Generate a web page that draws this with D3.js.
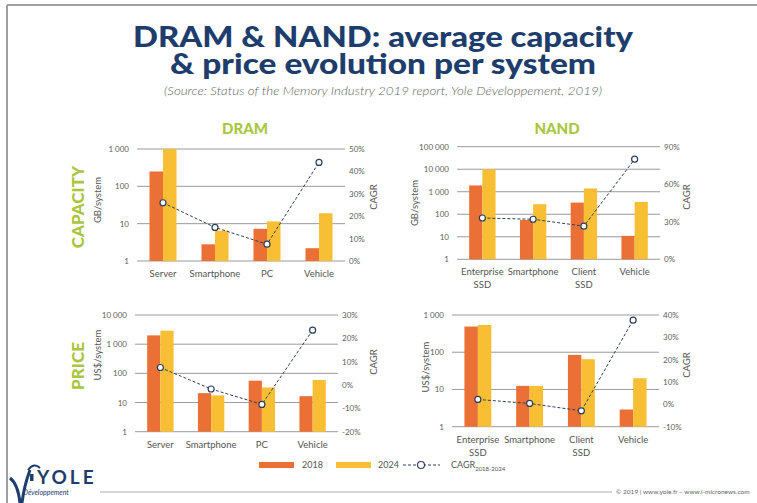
<!DOCTYPE html>
<html>
<head>
<meta charset="utf-8">
<script src="https://cdn.jsdelivr.net/npm/d3@7"></script>
<style>
  body { margin: 0; background: #fff; }
  svg { display: block; font-family: Lato, "Open Sans", sans-serif; }
</style>
</head>
<body>
<div id="chart"></div>
<script>
// categories
var dramCats = ["Server", "Smartphone", "PC", "Vehicle"];
var nandCats = ["Enterprise|SSD", "Smartphone", "Client|SSD", "Vehicle"];

// capacity, GB/system
var dramCap2018 = [250, 2.8, 7.3, 2.2];
var dramCap2024 = [1000, 6.5, 11.5, 19];
var dramCapCagr = [26, 15, 7.5, 44];
var nandCap2018 = [1900, 56, 330, 11];
var nandCap2024 = [10000, 280, 1400, 350];
var nandCapCagr = [33, 32, 26.5, 80];

// price, US$/system
var dramPrice2018 = [2000, 21, 56, 16.5];
var dramPrice2024 = [2900, 17.5, 33, 59];
var dramPriceCagr = [7.5, -1.7, -8.3, 23.5];
var nandPrice2018 = [490, 12.5, 85, 2.9];
var nandPrice2024 = [540, 12.5, 65, 20];
var nandPriceCagr = [2.2, 0.4, -2.9, 37.7];

// tick labels
var dramCapTicks = [1, 10, 100, 1000];
var nandCapTicks = [1, 10, 100, 1000, 10000, 100000];
var dramPriceTicks = [1, 10, 100, 1000, 10000];
var nandPriceTicks = [1, 10, 100, 1000];
var dramCapCagrTicks = [0, 10, 20, 30, 40, 50];
var nandCapCagrTicks = [0, 30, 60, 90];
var dramPriceCagrTicks = [-20, -10, 0, 10, 20, 30];
var nandPriceCagrTicks = [-10, 0, 10, 20, 30, 40];

var W = 757, H = 503;
var col2018 = "#ea7035", col2024 = "#f8bf35", green = "#a9c63e", navy = "#1d3d6d";
var gridCol = "#9a9a9a", tickCol = "#606060", lineCol = "#2c3e5e";

var svg = d3.select("#chart").append("svg")
  .attr("width", W).attr("height", H);

// frame
svg.append("line").attr("x1", 7).attr("x2", W).attr("y1", 5).attr("y2", 5)
  .attr("stroke", "#a0a0a0").attr("stroke-width", 2);
svg.append("line").attr("x1", 7).attr("x2", 7).attr("y1", 5).attr("y2", H)
  .attr("stroke", "#a0a0a0").attr("stroke-width", 2);

// title (one text, two lines)
var title = svg.append("text").attr("text-anchor", "middle")
  .attr("font-size", 28).attr("font-weight", 900).attr("fill", navy);
title.append("tspan").attr("x", 383).attr("y", 47)
  .attr("textLength", 500).attr("lengthAdjust", "spacingAndGlyphs")
  .text("DRAM & NAND: average capacity");
title.append("tspan").attr("x", 383).attr("y", 74)
  .attr("textLength", 426).attr("lengthAdjust", "spacingAndGlyphs")
  .text("& price evolution per system");
svg.append("text").attr("x", 383).attr("y", 95).attr("text-anchor", "middle")
  .attr("font-size", 11.5).attr("font-style", "italic").attr("font-weight", 300).attr("fill", "#666")
  .attr("textLength", 438).attr("lengthAdjust", "spacingAndGlyphs")
  .text("(Source: Status of the Memory Industry 2019 report, Yole Développement, 2019)");

// column / row headers
svg.append("text").attr("x", 245).attr("y", 134).attr("text-anchor", "middle")
  .attr("font-size", 15).attr("font-weight", 900).attr("fill", green).text("DRAM");
svg.append("text").attr("x", 557).attr("y", 134).attr("text-anchor", "middle")
  .attr("font-size", 15).attr("font-weight", 900).attr("fill", green).text("NAND");
svg.append("text").attr("transform", "translate(84,207) rotate(-90)").attr("text-anchor", "middle")
  .attr("font-size", 17).attr("font-weight", 900).attr("fill", green).text("CAPACITY");
svg.append("text").attr("transform", "translate(84,366) rotate(-90)").attr("text-anchor", "middle")
  .attr("font-size", 17).attr("font-weight", 900).attr("fill", green).text("PRICE");

var fmt = function(v) { return d3.format(",")(v).replace(/,/g, " "); };

var panels = [
  { cats: dramCats, a: dramCap2018, b: dramCap2024, c: dramCapCagr, ticks: dramCapTicks, cticks: dramCapCagrTicks,
    x0: 137, x1: 345, y0: 261, y1: 149, unit: "GB/system", ux: 101, uy: 200, cx: 377, cy: 197 },
  { cats: nandCats, a: nandCap2018, b: nandCap2024, c: nandCapCagr, ticks: nandCapTicks, cticks: nandCapCagrTicks,
    x0: 457, x1: 660, y0: 259.3, y1: 146.7, unit: "GB/system", ux: 418, uy: 203, cx: 690, cy: 197 },
  { cats: dramCats, a: dramPrice2018, b: dramPrice2024, c: dramPriceCagr, ticks: dramPriceTicks, cticks: dramPriceCagrTicks,
    x0: 135, x1: 338, y0: 431.7, y1: 315, unit: "US$/system", ux: 101, uy: 355, cx: 377, cy: 362 },
  { cats: nandCats, a: nandPrice2018, b: nandPrice2024, c: nandPriceCagr, ticks: nandPriceTicks, cticks: nandPriceCagrTicks,
    x0: 452, x1: 659, y0: 426.7, y1: 315, unit: "US$/system", ux: 429, uy: 367, cx: 690, cy: 365 }
];

panels.forEach(function(p) {
  var g = svg.append("g");
  var x = d3.scaleBand().domain(p.cats).range([p.x0, p.x1]).paddingInner(0.48).paddingOuter(0.24);
  var y = d3.scaleLog().domain([1, d3.max(p.ticks)]).range([p.y0, p.y1]).clamp(true);
  var yc = d3.scaleLinear().domain(d3.extent(p.cticks)).range([p.y0, p.y1]);
  var bw = x.bandwidth() / 2;

  // gridlines + left tick labels
  g.selectAll(".grid").data(p.ticks).enter().append("line")
    .attr("x1", p.x0).attr("x2", p.x1)
    .attr("y1", function(d) { return y(d); }).attr("y2", function(d) { return y(d); })
    .attr("stroke", gridCol).attr("stroke-width", 1);
  g.selectAll(".lt").data(p.ticks).enter().append("text")
    .attr("x", p.x0 - 8).attr("y", function(d) { return y(d) + 3; })
    .attr("text-anchor", "end").attr("font-size", 8).attr("fill", tickCol)
    .text(fmt);

  // right tick labels (CAGR)
  g.selectAll(".rt").data(p.cticks).enter().append("text")
    .attr("x", p.x1 + 4).attr("y", function(d) { return yc(d) + 3; })
    .attr("font-size", 8).attr("fill", tickCol)
    .text(function(d) { return d + "%"; });

  // bars
  var rows = p.cats.map(function(c, i) { return { cat: c, a: p.a[i], b: p.b[i], c: p.c[i] }; });
  g.selectAll(".ba").data(rows).enter().append("rect")
    .attr("x", function(d) { return x(d.cat); })
    .attr("y", function(d) { return y(d.a); })
    .attr("width", bw)
    .attr("height", function(d) { return p.y0 - y(d.a); })
    .attr("fill", col2018);
  g.selectAll(".bb").data(rows).enter().append("rect")
    .attr("x", function(d) { return x(d.cat) + bw; })
    .attr("y", function(d) { return y(d.b); })
    .attr("width", bw)
    .attr("height", function(d) { return p.y0 - y(d.b); })
    .attr("fill", col2024);

  // CAGR line
  var line = d3.line()
    .x(function(d) { return x(d.cat) + bw; })
    .y(function(d) { return yc(d.c); });
  g.append("path").datum(rows).attr("d", line)
    .attr("fill", "none").attr("stroke", lineCol).attr("stroke-width", 1)
    .attr("stroke-dasharray", "3,2");
  g.selectAll(".pt").data(rows).enter().append("circle")
    .attr("cx", function(d) { return x(d.cat) + bw; })
    .attr("cy", function(d) { return yc(d.c); })
    .attr("r", 3).attr("fill", "#fff").attr("stroke", lineCol).attr("stroke-width", 1.2);

  // category labels
  var lab = g.selectAll(".cl").data(p.cats).enter().append("text")
    .attr("text-anchor", "middle").attr("font-size", 9.5).attr("fill", "#555");
  lab.each(function(c) {
    var parts = c.split("|");
    var t = d3.select(this);
    parts.forEach(function(s, k) {
      t.append("tspan").attr("x", x(c) + bw).attr("y", p.y0 + 16 + k * 13).text(s);
    });
  });

  // axis titles
  g.append("text").attr("transform", "translate(" + p.ux + "," + p.uy + ") rotate(-90)")
    .attr("text-anchor", "middle").attr("font-size", 9.5).attr("fill", "#555").text(p.unit);
  g.append("text").attr("transform", "translate(" + p.cx + "," + p.cy + ") rotate(-90)")
    .attr("text-anchor", "middle").attr("font-size", 9.5).attr("fill", "#555").text("CAGR");
});

// legend
var lg = svg.append("g");
lg.append("rect").attr("x", 259).attr("y", 462).attr("width", 35).attr("height", 6).attr("fill", col2018);
lg.append("text").attr("x", 302).attr("y", 468).attr("font-size", 9).attr("fill", "#555").text("2018");
lg.append("rect").attr("x", 336).attr("y", 462).attr("width", 35).attr("height", 6).attr("fill", col2024);
lg.append("text").attr("x", 378).attr("y", 468).attr("font-size", 9).attr("fill", "#555").text("2024");
lg.append("line").attr("x1", 403).attr("x2", 440).attr("y1", 465).attr("y2", 465)
  .attr("stroke", lineCol).attr("stroke-width", 1).attr("stroke-dasharray", "3,2");
lg.append("circle").attr("cx", 421).attr("cy", 465).attr("r", 3.5)
  .attr("fill", "#fff").attr("stroke", lineCol).attr("stroke-width", 1.2);
var ct = lg.append("text").attr("x", 451).attr("y", 468).attr("font-size", 9).attr("fill", "#555");
ct.append("tspan").text("CAGR");
ct.append("tspan").attr("dy", 3).attr("font-size", 6).text("2018-2024");

// footer
svg.append("path").attr("d", "M10,478 Q18,484 20,503 M22,503 Q24,486 30,470")
  .attr("fill", "none").attr("stroke", navy).attr("stroke-width", 3);
svg.append("path").attr("d", "M28,470 Q34,462 40,468").attr("fill", "none")
  .attr("stroke", navy).attr("stroke-width", 2);
svg.append("rect").attr("x", 30).attr("y", 474).attr("width", 3.5).attr("height", 7).attr("fill", navy);
svg.append("text").attr("x", 37).attr("y", 484).attr("font-size", 19).attr("font-weight", 700)
  .attr("letter-spacing", 3).attr("fill", navy).text("YOLE");
svg.append("text").attr("x", 23).attr("y", 495).attr("font-size", 7).attr("font-style", "italic")
  .attr("fill", navy).text("Développement");
svg.append("line").attr("x1", 100).attr("x2", 612).attr("y1", 492).attr("y2", 492)
  .attr("stroke", "#999").attr("stroke-width", 0.8);
svg.append("text").attr("x", 616).attr("y", 494).attr("font-size", 6.5).attr("fill", "#666")
  .text("© 2019 | www.yole.fr – www.i-micronews.com");
</script>
</body>
</html>
